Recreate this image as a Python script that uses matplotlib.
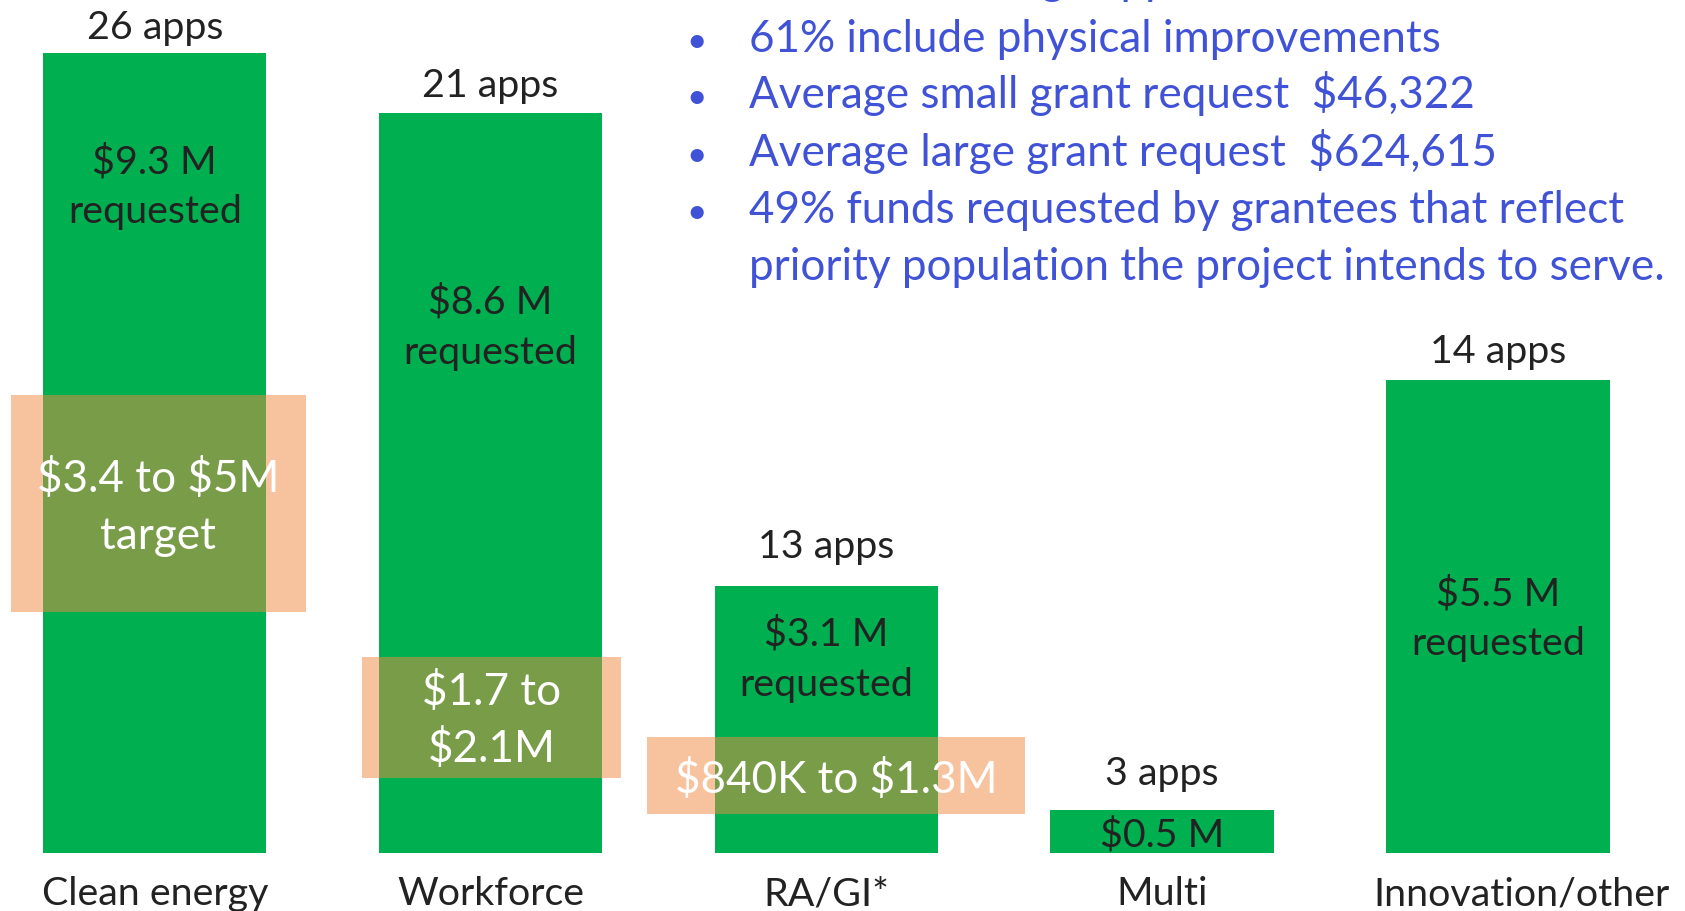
import matplotlib
matplotlib.use("Agg")
import matplotlib.pyplot as plt
from matplotlib.patches import Rectangle

# ---------------- data ----------------
categories = ["Clean energy", "Workforce", "RA/GI*", "Multi", "Innovation/other"]
requested_m = [9.3, 8.6, 3.1, 0.5, 5.5]
app_counts = [26, 21, 13, 3, 14]
value_labels = ["$9.3 M\nrequested", "$8.6 M\nrequested", "$3.1 M\nrequested",
                "$0.5 M", "$5.5 M\nrequested"]

# target ranges shown as translucent boxes (in $M as drawn)
target_cats = [0, 1, 2]
target_labels = ["$3.4 to $5M\ntarget", "$1.7 to\n$2.1M", "$840K to $1.3M"]
target_low = [2.80, 0.87, 0.46]
target_high = [5.32, 2.28, 1.35]

bullets = [
    "61 small, 16 large applications",
    "61% include physical improvements",
    "Average small grant request  $46,322",
    "Average large grant request  $624,615",
    "49% funds requested by grantees that reflect",
    "priority population the project intends to serve.",
]
bullet_marks = [True, True, True, True, True, False]

# ---------------- layout / style ----------------
W, H, DPI = 1685, 912, 100
GREEN = "#00B050"
ORANGE = (241 / 255, 137 / 255, 65 / 255)
DARK = "#222222"
BLUE = "#4052D6"
FONT = "Lato"

# positions (layout, not data)
value_label_y = [7.91, 6.28, 2.42, 0.087, 2.896]
app_label_y = [9.468, 8.794, 3.442, 0.805, 5.704]
cat_label_dx = [0, 0, 0, 0, 0.07]
cat_label_y = -0.589
target_box_x = [(-0.429, 0.451), (-0.383, 0.389), (-0.535, 0.592)]
target_text_y = [4.21, 1.734, 0.709]
bullet_baselines_px = [-5.5, 51.7, 108.3, 165.7, 223.0, 280.0]

plt.rcParams["font.family"] = [FONT, "DejaVu Sans"]
plt.rcParams["text.parse_math"] = False

fig = plt.figure(figsize=(W / DPI, H / DPI), dpi=DPI)
ax = fig.add_axes([0, 0, 1, 1])
ax.set_xlim(-0.4607, 4.557)
ax.set_ylim(-0.670, 9.924)
ax.axis("off")

x = list(range(len(categories)))
ax.bar(x, requested_m, width=0.6656, color=GREEN, zorder=2)

PT = 72 / DPI  # points per pixel


def put_lines(xc, yb, text, spacing_px, **kw):
    for k, line in enumerate(text.split("\n")):
        ax.annotate(line, (xc, yb), xytext=(0, -k * spacing_px * PT),
                    textcoords="offset points", ha="center", va="baseline",
                    zorder=5, parse_math=False, **kw)


BLACK_SIZE = 28.4
BIG_SIZE = 31.7

for i in x:
    put_lines(i, app_label_y[i], f"{app_counts[i]} apps", 50, fontsize=BLACK_SIZE, color=DARK)
    put_lines(i, value_label_y[i], value_labels[i], 50, fontsize=BLACK_SIZE, color=DARK)
    put_lines(i + cat_label_dx[i], cat_label_y, categories[i], 50, fontsize=BLACK_SIZE, color=DARK)

for j, ci in enumerate(target_cats):
    xl, xr = target_box_x[j]
    ax.add_patch(Rectangle((ci + xl, target_low[j]), xr - xl, target_high[j] - target_low[j],
                           facecolor=ORANGE, alpha=0.5, edgecolor="none", zorder=3))
    put_lines(ci + (xl + xr) / 2, target_text_y[j], target_labels[j], 57,
              fontsize=BIG_SIZE, color="white")

for b, txt, mark in zip(bullet_baselines_px, bullets, bullet_marks):
    yf = 1 - b / H
    if mark:
        fig.text(697 / W, yf, "\u2022", fontsize=BIG_SIZE * 0.8, color=BLUE, ha="center",
                 va="baseline", parse_math=False)
    fig.text(749 / W, yf, txt, fontsize=BIG_SIZE, color=BLUE, ha="left", va="baseline",
             parse_math=False)

fig.savefig("out.png", dpi=DPI)
